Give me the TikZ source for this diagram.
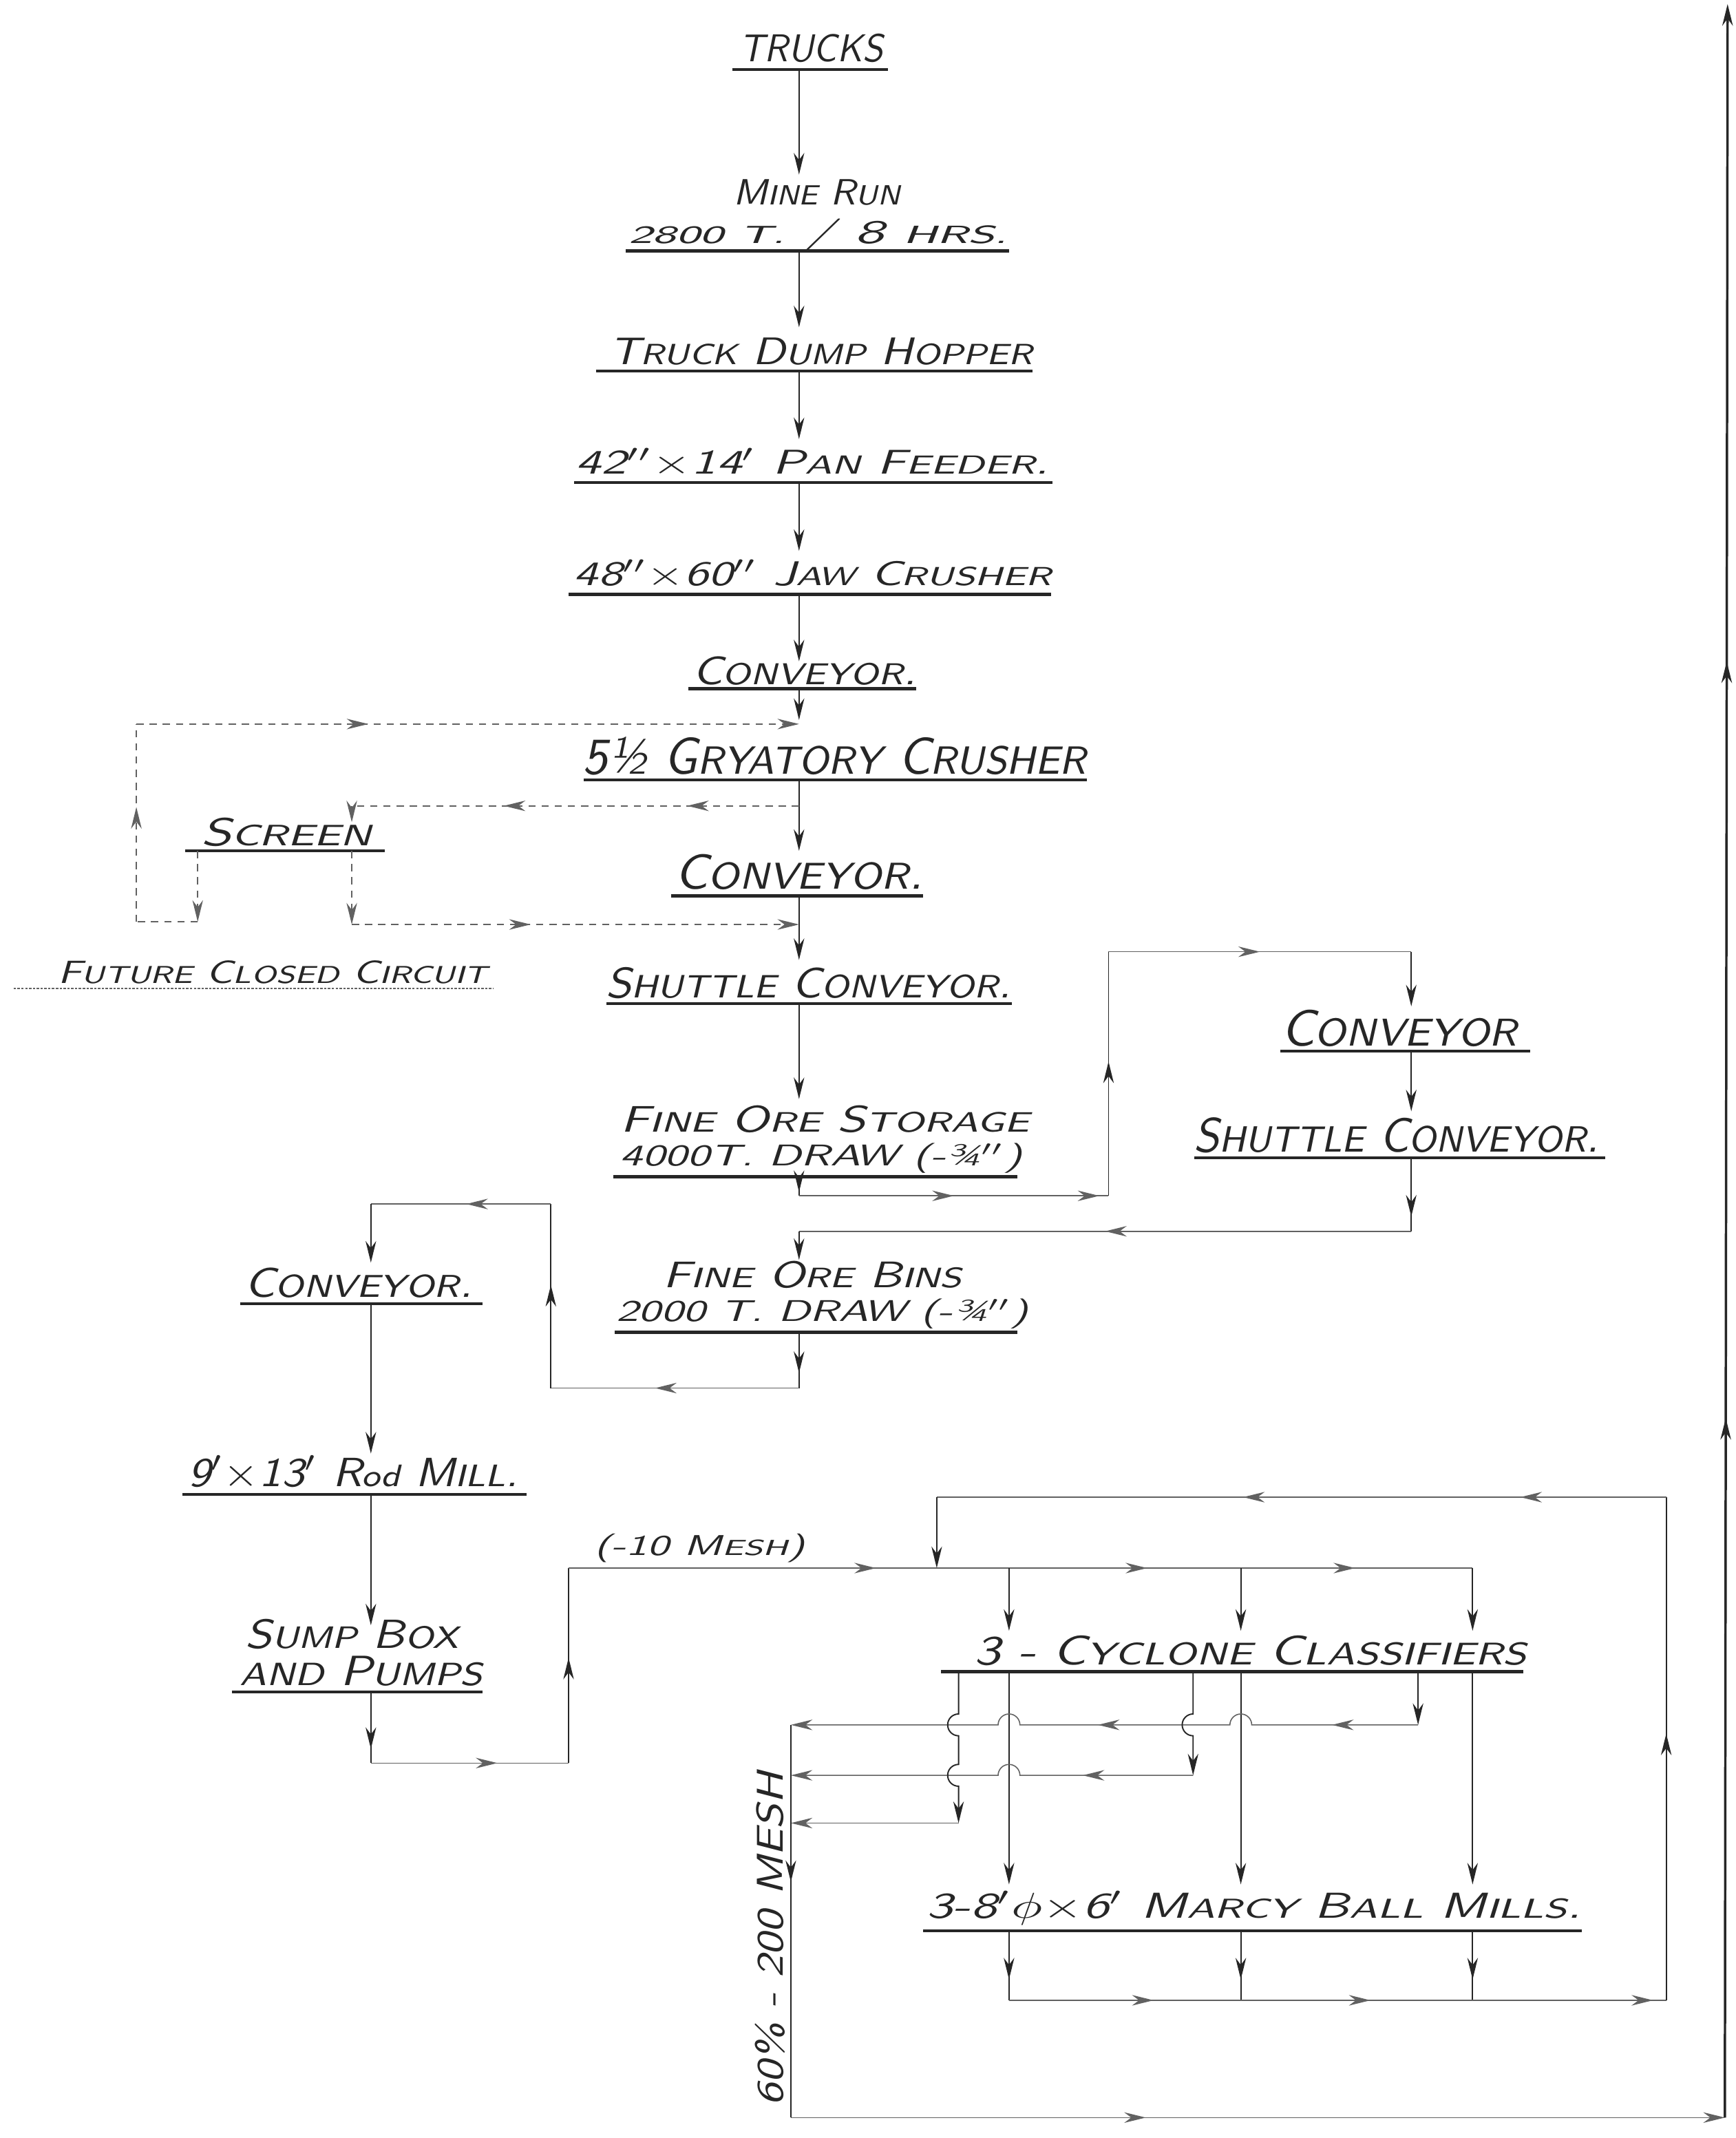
\documentclass[tikz,border=0pt]{standalone}
\usepackage{fontspec}
\usepackage{graphicx}
\usetikzlibrary{arrows.meta,decorations.markings}
\newlength\pxu \setlength\pxu{0.02cm}
\newcommand\smc[1]{{\fontsize{7.6pt}{9pt}\selectfont #1}}
\newcommand\hw[3]{\resizebox*{#1\pxu}{#2\pxu}{\sffamily\slshape #3}}
\definecolor{ink}{gray}{0.15}
\definecolor{lightink}{gray}{0.38}
\begin{document}
\begin{tikzpicture}[x=0.02cm,y=-0.02cm,
  lab/.style={inner sep=0pt,anchor=south,text=ink},
  uline/.style={draw=ink,line width=1.25pt},
  flow/.style={draw=ink,line width=0.55pt},
  hline/.style={draw=lightink,line width=0.45pt},
  fut/.style={draw=lightink,line width=0.5pt,dash pattern=on 3pt off 2.5pt},
  heavy/.style={draw=ink,line width=1pt},
  thinul/.style={draw=lightink,line width=0.5pt,dash pattern=on 1pt off 0.6pt},
  endtip/.style={-{Stealth[length=9pt,width=4.4pt]}},
  midtip/.style={postaction={decorate,decoration={markings,mark=at position #1 with {\arrow{Stealth[length=9pt,width=4.4pt]}}}}}]
\fill[white] (0,0) rectangle (1273,1568);
\useasboundingbox (0,0) rectangle (1273,1568);

% ---------- labels ----------
\node[lab] (trucks) at (595,46) {\hw{105}{21}{TRUCKS}};
\node[lab] (minerun) at (599,151) {\hw{122}{19}{M\smc{INE} R\smc{UN}}};
\node[lab] (tons) at (600,185) {\hw{278}{24}{\smc{2800 T.} / 8 \smc{HRS.}}};
\node[lab] (hopper) at (602,268) {\hw{310}{20}{T\smc{RUCK} D\smc{UMP} H\smc{OPPER}}};
\node[lab] (feeder) at (596,350) {\hw{347}{21}{42$''$$\times$14$'$ P\smc{AN} F\smc{EEDER}.}};
\node[lab] (jaw) at (596,432) {\hw{350}{21}{48$''$$\times$60$''$ J\smc{AW} C\smc{RUSHER}}};
\node[lab] (conv1) at (590,503) {\hw{164}{21}{C\smc{ONVEYOR}.}};
\node[lab] (gyr) at (612,569) {\hw{369}{28}{5½ G\smc{RYATORY} C\smc{RUSHER}}};
\node[lab] (conv2) at (586,653) {\hw{182}{26}{C\smc{ONVEYOR}.}};
\node[lab] (shut1) at (593,733) {\hw{297}{23}{S\smc{HUTTLE} C\smc{ONVEYOR}.}};
\node[lab] (screen) at (210,621) {\hw{125}{21}{S\smc{CREEN}}};
\node[lab] (future) at (200,722) {\hw{315}{17}{F\smc{UTURE} C\smc{LOSED} C\smc{IRCUIT}}};
\node[lab] (fos1) at (605,831) {\hw{300}{20}{F\smc{INE} O\smc{RE} S\smc{TORAGE}}};
\node[lab] (fos2) at (602,861) {\hw{295}{22}{4000T. DRAW (-¾$''$)}};
\node[lab] (conv3) at (1026,768) {\hw{173}{27}{C\smc{ONVEYOR}}};
\node[lab] (shut2) at (1024,846) {\hw{297}{26}{S\smc{HUTTLE} C\smc{ONVEYOR}.}};
\node[lab] (fob1) at (596,945) {\hw{219}{20}{F\smc{INE} O\smc{RE} B\smc{INS}}};
\node[lab] (fob2) at (603,975) {\hw{302}{22}{2000 T. DRAW (-¾$''$)}};
\node[lab] (conv4) at (263,952) {\hw{167}{22}{C\smc{ONVEYOR}.}};
\node[lab] (rod) at (259,1093) {\hw{242}{25}{9$'$$\times$13$'$ R\smc{od} M\smc{ILL}.}};
\node[lab] (sump1) at (258,1210) {\hw{156}{22}{S\smc{UMP} B\smc{OX}}};
\node[lab] (sump2) at (265,1237) {\hw{178}{22}{\smc{AND} P\smc{UMPS}}};
\node[lab] (mesh10) at (513,1146) {\hw{154}{21}{(-10 M\smc{ESH})}};
\node[lab] (cyc) at (917,1222) {\hw{405}{22}{3 - C\smc{YCLONE} C\smc{LASSIFIERS}}};
\node[lab] (ball) at (920,1412) {\hw{480}{25}{3-8$'\phi\times$6$'$ M\smc{ARCY} B\smc{ALL} M\smc{ILLS}.}};
\node[lab,rotate=90] (mesh200) at (576,1422) {\hw{245}{22}{60\% - 200 MESH}};

% ---------- underlines ----------
\draw[uline] (537,51) -- (651,51);
\draw[uline] (459,184) -- (740,184);
\draw[uline] (437,272) -- (757,272);
\draw[uline] (421,354) -- (772,354);
\draw[uline] (417,436) -- (771,436);
\draw[uline] (505,505) -- (672,505);
\draw[uline] (428,572) -- (797,572);
\draw[uline] (492,657) -- (677,657);
\draw[uline] (445,736) -- (742,736);
\draw[uline] (136,624) -- (282,624);
\draw[thinul] (10,725) -- (362,725);
\draw[uline] (450,863) -- (746,863);
\draw[uline] (939,771) -- (1122,771);
\draw[uline] (876,849) -- (1177,849);
\draw[uline] (451,977) -- (746,977);
\draw[uline] (176,956) -- (354,956);
\draw[uline] (134,1096) -- (386,1096);
\draw[uline] (170,1241) -- (354,1241);
\draw[uline] (690,1226) -- (1117,1226);
\draw[uline] (677,1416) -- (1160,1416);

% ---------- coordinates ----------
\coordinate (tU) at (586,51);   \coordinate (mrT) at (586,128);
\coordinate (mrU) at (586,184); \coordinate (tdhT) at (586,240);
\coordinate (tdhU) at (586,272);\coordinate (pfT) at (586,322);
\coordinate (pfU) at (586,354); \coordinate (jcT) at (586,404);
\coordinate (jcU) at (586,436); \coordinate (c1T) at (586,485);
\coordinate (c1U) at (586,505); \coordinate (gcT) at (586,528);
\coordinate (j531) at (586,531);
\coordinate (gcU) at (586,572); \coordinate (j591) at (586,591); \coordinate (c2T) at (586,624);
\coordinate (c2U) at (586,657); \coordinate (j678) at (586,678); \coordinate (scT) at (586,704);
\coordinate (scU) at (586,736); \coordinate (fosT) at (586,806);
\coordinate (fosU) at (586,863); \coordinate (f877) at (586,877);
\coordinate (r877) at (813,877); \coordinate (r698) at (813,698);
\coordinate (cr698) at (1035,698); \coordinate (crT) at (1035,738);
\coordinate (crU) at (1035,771); \coordinate (scrT) at (1035,815);
\coordinate (scrU) at (1035,849); \coordinate (scr903) at (1035,903);
\coordinate (m903) at (586,903); \coordinate (fobT) at (586,924);
\coordinate (fobU) at (586,977); \coordinate (m1018) at (586,1018);
\coordinate (l1018) at (404,1018); \coordinate (l883) at (404,883);
\coordinate (cl883) at (272,883); \coordinate (clT) at (272,926);
\coordinate (clU) at (272,956); \coordinate (rmT) at (272,1066);
\coordinate (rmU) at (272,1096); \coordinate (sbT) at (272,1192);
\coordinate (sbU) at (272,1241); \coordinate (s1293) at (272,1293);
\coordinate (p1293) at (417,1293); \coordinate (p1150) at (417,1150);
\coordinate (d687) at (687,1150); \coordinate (d740) at (740,1150);
\coordinate (d910) at (910,1150); \coordinate (d1080) at (1080,1150);
\coordinate (k740) at (740,1196); \coordinate (k910) at (910,1196); \coordinate (k1080) at (1080,1196);
\coordinate (u740) at (740,1226); \coordinate (u910) at (910,1226); \coordinate (u1080) at (1080,1226);
\coordinate (n740) at (740,1382); \coordinate (n910) at (910,1382); \coordinate (n1080) at (1080,1382);
\coordinate (b740) at (740,1416); \coordinate (b910) at (910,1416); \coordinate (b1080) at (1080,1416);
\coordinate (e740) at (740,1467); \coordinate (e910) at (910,1467); \coordinate (e1080) at (1080,1467);
\coordinate (e1222) at (1222,1467); \coordinate (t1222) at (1222,1098); \coordinate (t687) at (687,1098);
\coordinate (o1040) at (1040,1226); \coordinate (o1040b) at (1040,1265); \coordinate (v1) at (580,1265);
\coordinate (o875) at (875,1226); \coordinate (o875b) at (875,1302); \coordinate (v2) at (580,1302);
\coordinate (o703) at (703,1226); \coordinate (o703b) at (703,1337); \coordinate (v3) at (580,1337);
\coordinate (g1553) at (580,1553); \coordinate (rb) at (1265,1553); \coordinate (rtop) at (1267,3);
% future circuit
\coordinate (l531) at (100,531); \coordinate (l676) at (100,676);
\coordinate (s676) at (145,676); \coordinate (scrL) at (145,624);
\coordinate (scrR) at (258,624); \coordinate (s678) at (258,678);
\coordinate (s591) at (258,591); \coordinate (scrIn) at (258,603);

% ---------- main column ----------
\draw[flow,endtip] (tU) -- (mrT);
\draw[flow,endtip] (mrU) -- (tdhT);
\draw[flow,endtip] (tdhU) -- (pfT);
\draw[flow,endtip] (pfU) -- (jcT);
\draw[flow,endtip] (jcU) -- (c1T);
\draw[flow,endtip] (c1U) -- (gcT);
\draw[flow,endtip] (gcU) -- (c2T);
\draw[flow,endtip] (c2U) -- (scT);
\draw[flow,endtip] (scU) -- (fosT);

% fine ore storage -> conveyor -> shuttle -> bins
\draw[flow,midtip=0.8] (fosU) -- (f877);
\draw[hline,midtip=0.5,midtip=0.97] (f877) -- (r877);
\draw[flow,midtip=0.55] (r877) -- (r698);
\draw[hline,midtip=0.5] (r698) -- (cr698);
\draw[flow,endtip] (cr698) -- (crT);
\draw[flow,endtip] (crU) -- (scrT);
\draw[flow,midtip=0.8] (scrU) -- (scr903);
\draw[hline,midtip=0.5] (scr903) -- (m903);
\draw[flow,endtip] (m903) -- (fobT);

% bins -> conveyor -> rod mill -> sump
\draw[flow,midtip=0.73] (fobU) -- (m1018);
\draw[hline,midtip=0.58] (m1018) -- (l1018);
\draw[flow,midtip=0.56] (l1018) -- (l883);
\draw[hline,midtip=0.47] (l883) -- (cl883);
\draw[flow,endtip] (cl883) -- (clT);
\draw[flow,endtip] (clU) -- (rmT);
\draw[flow,endtip] (rmU) -- (sbT);
\draw[flow,midtip=0.8] (sbU) -- (s1293);
\draw[hline,midtip=0.64] (s1293) -- (p1293);
\draw[flow,midtip=0.54] (p1293) -- (p1150);
\draw[hline,midtip=0.34,midtip=0.64,midtip=0.87] (p1150) -- (d1080);

% cyclone feeds and underflows
\draw[flow,endtip] (d740) -- (k740);
\draw[flow,endtip] (d910) -- (k910);
\draw[flow,endtip] (d1080) -- (k1080);
\draw[flow,endtip] (u740) -- (n740);
\draw[flow,endtip] (u910) -- (n910);
\draw[flow,endtip] (u1080) -- (n1080);

% ball mill discharge loop
\draw[flow,midtip=0.7] (b740) -- (e740);
\draw[flow,midtip=0.7] (b910) -- (e910);
\draw[flow,midtip=0.7] (b1080) -- (e1080);
\draw[hline,midtip=0.22,midtip=0.55,midtip=0.98] (e740) -- (e1222);
\draw[flow,midtip=0.53] (e1222) -- (t1222);
\draw[hline,midtip=0.2,midtip=0.58] (t1222) -- (t687);
\draw[flow,endtip] (t687) -- (d687);

% cyclone overflows with crossings
\draw[flow,endtip] (o1040) -- (o1040b);
\draw[hline,midtip=0.132,midtip=0.51,endtip] (o1040b) -- (918,1265)
   arc[start angle=0,end angle=180,radius=0.16cm] -- (748,1265)
   arc[start angle=0,end angle=180,radius=0.16cm] -- (v1);
\draw[flow,endtip] (o875) -- (875,1257)
   arc[start angle=90,end angle=270,radius=0.16cm] -- (o875b);
\draw[hline,midtip=0.266,endtip] (o875b) -- (748,1302)
   arc[start angle=0,end angle=180,radius=0.16cm] -- (v2);
\draw[flow,endtip] (o703) -- (703,1257)
   arc[start angle=90,end angle=270,radius=0.16cm] -- (703,1294)
   arc[start angle=90,end angle=270,radius=0.16cm] -- (o703b);
\draw[hline,endtip] (o703b) -- (v3);

% fines to the next section
\draw[flow,midtip=0.4] (v1) -- (g1553);
\draw[hline,midtip=0.38,endtip] (g1553) -- (rb);
\draw[heavy,midtip=0.331,midtip=0.689,endtip] (rb) -- (rtop);

% future closed circuit (dashed)
\draw[fut,midtip=0.25,midtip=0.66] (j591) -- (s591);
\draw[fut,endtip] (s591) -- (scrIn);
\draw[fut,endtip] (scrR) -- (s678);
\draw[fut,midtip=0.4,endtip] (s678) -- (j678);
\draw[fut,endtip] (scrL) -- (s676);
\draw[fut] (s676) -- (l676);
\draw[fut,midtip=0.58] (l676) -- (l531);
\draw[fut,midtip=0.35,endtip] (l531) -- (j531);
\end{tikzpicture}
\end{document}
